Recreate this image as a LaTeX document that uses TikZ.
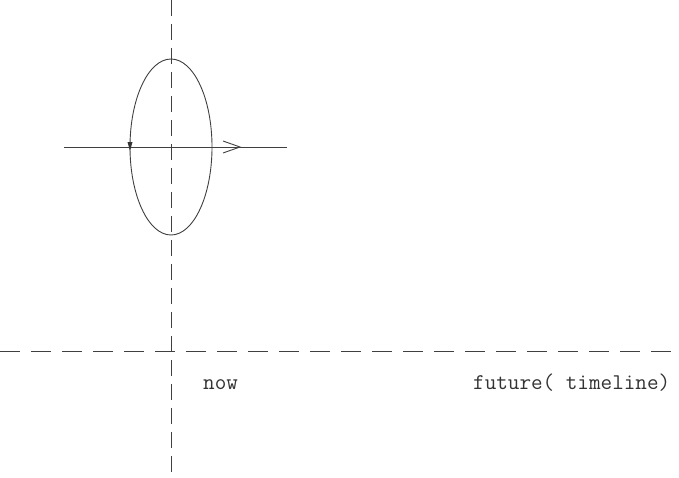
\documentclass[tikz,border=0pt]{standalone}
\usepackage{fontspec}
\usetikzlibrary{arrows.meta}
\begin{document}
\begin{tikzpicture}[x=1pt,y=-1pt,
  axisline/.style={line width=0.9pt,draw=black!75},
  vdash/.style={axisline,dash pattern=on 16pt off 8pt},
  hdash/.style={axisline,dash pattern=on 20pt off 11pt},
  lbl/.style={font=\ttfamily\fontsize{22.5}{26}\selectfont,text=black!80,inner sep=0pt,anchor=base west}]
\useasboundingbox (0,0) rectangle (679,477);
\coordinate (vt) at (171,0);
\coordinate (vb) at (171,477);
\coordinate (hl) at (0,351);
\coordinate (hr) at (679,351);
\coordinate (sl) at (64,147);
\coordinate (sr) at (287,147);
\coordinate (c) at (171,147);
\draw[vdash] (vt) -- (vb);
\draw[hdash] (hl) -- (hr);
\draw[axisline] (c) ellipse [x radius=41, y radius=88];
\draw[axisline] (sl) -- (sr);
% open arrowhead on horizontal line
\coordinate (ah) at (240,147);
\draw[axisline] (223,141) -- (ah) -- (223,153);
% small down arrow on left side of ellipse
\coordinate (da) at (130,151);
\fill[black!80] (127.5,142) -- (132.5,142) -- (da) -- cycle;
\node[lbl] (now) at (203,389) {now};
\node[lbl] (fut) at (473,389) {future( timeline)};
\end{tikzpicture}
\end{document}
